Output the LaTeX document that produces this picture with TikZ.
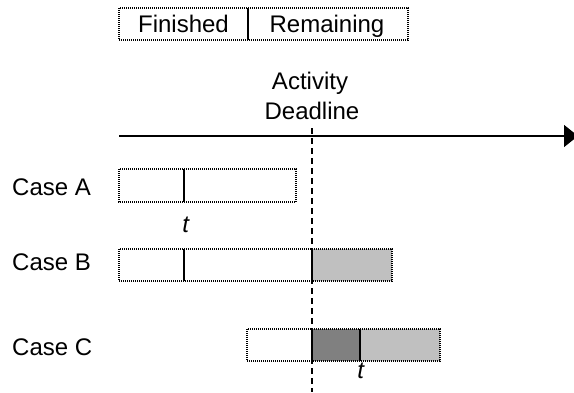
\documentclass[tikz,border=0pt]{standalone}
\usepackage{fontspec}
\setmainfont{Liberation Sans}
\usetikzlibrary{arrows.meta}
\definecolor{shadelight}{HTML}{C0C0C0}
\definecolor{shadedark}{HTML}{808080}

\begin{document}
\begin{tikzpicture}[x=1pt, y=-1pt,
  every node/.style={font=\fontsize{24}{28}\selectfont, inner sep=0pt, text height=17.2pt, text depth=0pt},
  outline/.style={draw, dash pattern=on 1pt off 1pt, line width=1.4pt},
  divider/.style={line width=1.3pt},
  deadline/.style={dash pattern=on 6pt off 4pt, line width=1.5pt},
  axis/.style={line width=1.6pt, -{Triangle[length=14pt, width=22pt]}}]
\useasboundingbox (0,0) rectangle (574,392);
% legend
\draw[outline] (119,8) rectangle (408,40);
\draw[divider] (248,8) -- (248,40);
\node (fin) at (183.5,23.5) {Finished};
\node (rem) at (327,23.5) {Remaining};
% time axis and deadline
\node (act) at (310,80.5) {Activity};
\node (dl) at (312,110.5) {Deadline};
\coordinate (t0) at (119,136);
\coordinate (t1) at (578,136);
\draw[axis] (t0) -- (t1);
\coordinate (dtop) at (312,128);
\coordinate (dbot) at (312,392);
\draw[deadline] (dtop) -- (dbot);
% case A
\node[anchor=west] (ca) at (12,187) {Case A};
\draw[outline] (119,169) rectangle (296,202);
\draw[divider] (184,169) -- (184,202);
\node[anchor=base] (ta) at (186,232) {\textit{t}};
% case B
\node[anchor=west] (cb) at (12,262) {Case B};
\fill[shadelight] (312,249) rectangle (392,281);
\draw[outline] (119,249) rectangle (392,281);
\draw[divider] (184,249) -- (184,281);
\draw[divider] (312,249) -- (312,281);
% case C
\node[anchor=west] (cc) at (12,346.5) {Case C};
\fill[shadedark] (312,329) rectangle (360,361);
\fill[shadelight] (360,329) rectangle (440,361);
\draw[outline] (247,329) rectangle (440,361);
\draw[divider] (312,329) -- (312,361);
\draw[divider] (360,329) -- (360,361);
\node[anchor=base] (tc) at (361,378) {\textit{t}};
\end{tikzpicture}
\end{document}
